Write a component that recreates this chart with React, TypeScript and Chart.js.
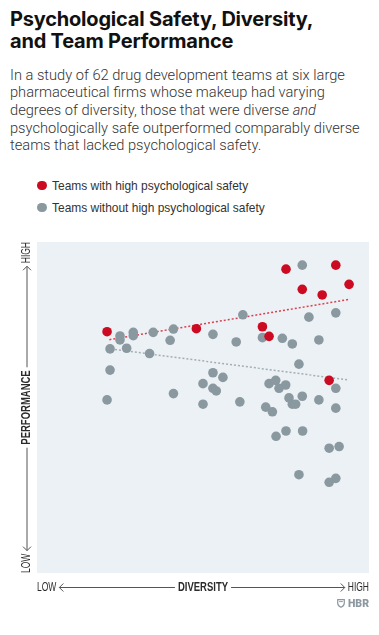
import React, { useEffect, useRef } from "react";
import { Chart, registerables } from "chart.js";

Chart.register(...registerables);

// ---- data (diversity 0-100, performance 0-100) ----
const safeDiversity = [75.0, 90.0, 94.0, 79.9, 85.9, 21.1, 48.0, 67.9, 69.9, 88.0];
const safePerformance = [91.8, 93.0, 87.2, 85.7, 84.0, 72.9, 73.8, 74.4, 71.5, 58.2];

const unsafeDiversity = [
  79.9, 90.0, 81.9, 62.0, 25.0, 25.0, 29.0, 29.0, 35.0, 41.1, 40.1, 53.0, 60.0,
  67.9, 73.9, 76.9, 84.9, 22.0, 27.0, 33.9, 78.9, 22.0, 53.0, 56.0, 50.0, 53.0,
  54.0, 69.9, 71.9, 74.9, 72.9, 90.0, 21.1, 41.1, 50.0, 61.1, 75.9, 79.9, 84.9,
  76.9, 77.9, 68.9, 70.9, 90.0, 72.0, 75.0, 80.0, 88.0, 91.0, 78.9, 88.0, 90.0,
];
const unsafePerformance = [
  93.0, 78.6, 77.3, 78.0, 71.6, 70.4, 72.7, 71.7, 72.7, 73.7, 70.3, 72.1, 69.8,
  71.1, 70.9, 69.2, 70.4, 67.7, 67.9, 66.3, 63.1, 61.3, 60.5, 59.1, 57.2, 55.8,
  55.0, 57.2, 58.2, 56.8, 55.8, 55.8, 52.3, 54.2, 51.0, 51.7, 52.9, 53.4, 52.3,
  51.0, 51.0, 50.1, 48.7, 49.8, 41.3, 42.9, 42.9, 37.7, 38.2, 29.7, 27.4, 28.6,
];

// trend lines: [start, end]
const safeTrendX = [21.8, 94.3];
const safeTrendY = [70.5, 82.7];
const unsafeTrendX = [22.3, 93.9];
const unsafeTrendY = [67.7, 58.3];

const legendLabels = ["Teams with high psychological safety", "Teams without high psychological safety"];
const xAxisLabels = ["LOW", "DIVERSITY", "HIGH"];
const yAxisLabels = ["LOW", "PERFORMANCE", "HIGH"];

const RED = "#cc0a22";
const GRAY = "#8a989f";
const BG = "#ecf1f5";
const AXIS_FONT = '"Liberation Sans", Arial, sans-serif';

const zip = (xs: number[], ys: number[]) => xs.map((x, i) => ({ x, y: ys[i] }));

function squeezeText(
  ctx: CanvasRenderingContext2D,
  text: string,
  x: number,
  y: number,
  font: string,
  sx: number,
  align: "left" | "right" | "center"
) {
  ctx.save();
  ctx.font = font;
  ctx.textAlign = align;
  ctx.translate(x, y);
  ctx.scale(sx, 1);
  ctx.fillText(text, 0, 0);
  ctx.restore();
}

const REG_FONT = `12.5px ${AXIS_FONT}`;
const BOLD_FONT = `bold 12.5px ${AXIS_FONT}`;
const REG_SX = 0.68;
const BOLD_SX = 0.76;

function drawAxisLabel(
  ctx: CanvasRenderingContext2D,
  start: number,
  end: number,
  labels: string[]
) {
  const [lo, mid, hi] = labels;
  ctx.font = REG_FONT;
  const loW = ctx.measureText(lo).width * REG_SX;
  const hiW = ctx.measureText(hi).width * REG_SX;
  ctx.font = BOLD_FONT;
  const midW = ctx.measureText(mid).width * BOLD_SX;
  const center = (start + end) / 2;

  ctx.fillStyle = "#2b2b2b";
  ctx.textBaseline = "middle";
  squeezeText(ctx, lo, start, 0.5, REG_FONT, REG_SX, "left");
  squeezeText(ctx, hi, end, 0.5, REG_FONT, REG_SX, "right");
  squeezeText(ctx, mid, center, 0.5, BOLD_FONT, BOLD_SX, "center");

  ctx.strokeStyle = "#555";
  ctx.lineWidth = 1;
  const gap = 3;
  const l1 = start + loW + gap;
  const l2 = center - midW / 2 - gap;
  const r1 = center + midW / 2 + gap;
  const r2 = end - hiW - gap;
  ctx.beginPath();
  ctx.moveTo(l1, 0.5);
  ctx.lineTo(l2, 0.5);
  ctx.moveTo(r1, 0.5);
  ctx.lineTo(r2, 0.5);
  ctx.moveTo(l1 + 4, -3.5);
  ctx.lineTo(l1, 0.5);
  ctx.lineTo(l1 + 4, 4.5);
  ctx.moveTo(r2 - 4, -3.5);
  ctx.lineTo(r2, 0.5);
  ctx.lineTo(r2 - 4, 4.5);
  ctx.stroke();
}

const decorPlugin = {
  id: "decor",
  beforeDatasetsDraw(chart: any) {
    const { ctx, chartArea } = chart;
    ctx.save();
    ctx.fillStyle = BG;
    ctx.fillRect(chartArea.left, chartArea.top, chartArea.right - chartArea.left, chartArea.bottom - chartArea.top);
    ctx.restore();
  },
  afterDraw(chart: any) {
    const { ctx, chartArea } = chart;
    ctx.save();
    ctx.translate(0, chartArea.bottom + 14);
    drawAxisLabel(ctx, chartArea.left, chartArea.right, xAxisLabels);
    ctx.restore();
    ctx.save();
    ctx.translate(chartArea.left - 10.5, 0);
    ctx.rotate(-Math.PI / 2);
    drawAxisLabel(ctx, -chartArea.bottom, -chartArea.top, yAxisLabels);
    ctx.restore();
  },
};

function ScatterChart() {
  const ref = useRef<HTMLCanvasElement>(null);
  useEffect(() => {
    if (!ref.current) return;
    const chart = new Chart(ref.current, {
      type: "scatter",
      data: {
        datasets: [
          {
            label: "safe trend",
            type: "line",
            data: zip(safeTrendX, safeTrendY),
            borderColor: "#d9414f",
            borderWidth: 1.5,
            borderDash: [2, 2],
            pointRadius: 0,
            showLine: true,
            fill: false,
            order: 4,
          },
          {
            label: "unsafe trend",
            type: "line",
            data: zip(unsafeTrendX, unsafeTrendY),
            borderColor: "#a4aeb3",
            borderWidth: 1.5,
            borderDash: [2, 2],
            pointRadius: 0,
            showLine: true,
            fill: false,
            order: 3,
          },
          {
            label: legendLabels[1],
            data: zip(unsafeDiversity, unsafePerformance),
            backgroundColor: GRAY,
            borderWidth: 0,
            pointRadius: 4.8,
            order: 2,
          },
          {
            label: legendLabels[0],
            data: zip(safeDiversity, safePerformance),
            backgroundColor: RED,
            borderWidth: 0,
            pointRadius: 4.8,
            order: 1,
          },
        ],
      },
      options: {
        animation: false,
        responsive: false,
        devicePixelRatio: 1,
        layout: { padding: { left: 29, right: 10, top: 12, bottom: 45 } },
        scales: {
          x: { type: "linear", min: 0, max: 100, display: false },
          y: { type: "linear", min: 0, max: 100, display: false },
        },
        plugins: {
          legend: { display: false },
          tooltip: { enabled: false },
        },
      },
      plugins: [decorPlugin],
    });
    return () => chart.destroy();
  }, []);
  return (
    <canvas
      ref={ref}
      width={371}
      height={388}
      style={{ position: "absolute", left: 0, top: 222, width: 371, height: 388 }}
    />
  );
}

export default function App() {
  const dot = (c: string) => ({
    display: "inline-block",
    width: 9.5,
    height: 9.5,
    borderRadius: "50%",
    background: c,
    marginRight: 5,
    verticalAlign: "middle",
    position: "relative" as const,
    top: -1,
  });
  const squeeze = { display: "inline-block", transform: "scaleX(0.92)", transformOrigin: "left center" };
  return (
    <div style={{ position: "relative", width: 363, height: 610, fontFamily: "Roboto, sans-serif" }}>
      <div
        style={{
          position: "absolute",
          left: 2,
          top: 0,
          fontFamily: "Inter, Roboto, sans-serif",
          fontSize: 20,
          lineHeight: "22px",
          fontWeight: 700,
          letterSpacing: "-0.2px",
          color: "#111",
          whiteSpace: "nowrap",
        }}
      >
        Psychological Safety, Diversity,
        <br />
        and Team Performance
      </div>
      <div
        style={{
          position: "absolute",
          left: 2,
          top: 58.8,
          fontSize: 14.65,
          lineHeight: "17.6px",
          fontWeight: 300,
          color: "#333",
          whiteSpace: "nowrap",
        }}
      >
        In a study of 62 drug development teams at six large
        <br />
        pharmaceutical firms whose makeup had varying
        <br />
        degrees of diversity, those that were diverse <i>and</i>
        <br />
        psychologically safe outperformed comparably diverse
        <br />
        teams that lacked psychological safety.
      </div>
      <div
        style={{
          position: "absolute",
          left: 29,
          top: 167,
          fontFamily: AXIS_FONT,
          fontSize: 13,
          lineHeight: "22px",
          color: "#333",
          whiteSpace: "nowrap",
        }}
      >
        <div>
          <span style={dot(RED)} />
          <span style={squeeze}>{legendLabels[0]}</span>
        </div>
        <div>
          <span style={dot(GRAY)} />
          <span style={squeeze}>{legendLabels[1]}</span>
        </div>
      </div>
      <ScatterChart />
      <div
        style={{
          position: "absolute",
          right: 2,
          top: 589,
          display: "flex",
          alignItems: "center",
          gap: 3,
          color: "#8c99a0",
          fontFamily: "Roboto, sans-serif",
          fontWeight: 900,
          fontSize: 10.5,
        }}
      >
        <svg width="8" height="9" viewBox="0 0 8 9">
          <path d="M0.7 0.7 H7.3 V4 Q7.3 7 4 8.3 Q0.7 7 0.7 4 Z" fill="none" stroke="#8c99a0" strokeWidth="1.2" />
          <path d="M2.2 2.6 H5.8" stroke="#8c99a0" strokeWidth="1" />
        </svg>
        <span>HBR</span>
      </div>
    </div>
  );
}
